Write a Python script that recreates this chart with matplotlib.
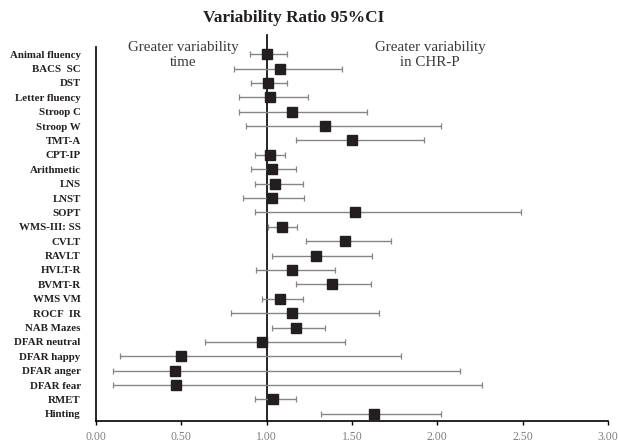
import matplotlib
matplotlib.use("Agg")
import matplotlib.pyplot as plt

categories = ["Animal fluency", "BACS  SC", "DST", "Letter fluency", "Stroop C", "Stroop W",
              "TMT-A", "CPT-IP", "Arithmetic", "LNS", "LNST", "SOPT", "WMS-III: SS", "CVLT",
              "RAVLT", "HVLT-R", "BVMT-R", "WMS VM", "ROCF  IR", "NAB Mazes", "DFAR neutral",
              "DFAR happy", "DFAR anger", "DFAR fear", "RMET", "Hinting"]
ratio = [1.00, 1.08, 1.01, 1.02, 1.15, 1.34, 1.50, 1.02, 1.03, 1.05, 1.03, 1.52, 1.09, 1.46,
         1.29, 1.15, 1.38, 1.08, 1.15, 1.17, 0.97, 0.50, 0.46, 0.47, 1.04, 1.63]
ci_low = [0.90, 0.81, 0.91, 0.84, 0.84, 0.88, 1.17, 0.93, 0.91, 0.93, 0.86, 0.93, 1.01, 1.23,
          1.03, 0.94, 1.17, 0.97, 0.79, 1.03, 0.64, 0.14, 0.10, 0.10, 0.93, 1.32]
ci_high = [1.12, 1.44, 1.12, 1.24, 1.59, 2.02, 1.92, 1.11, 1.17, 1.21, 1.22, 2.49, 1.18, 1.73,
           1.62, 1.40, 1.61, 1.21, 1.66, 1.34, 1.46, 1.79, 2.13, 2.26, 1.17, 2.02]
xticks = [0.0, 0.5, 1.0, 1.5, 2.0, 2.5, 3.0]

serif = ["Liberation Serif", "DejaVu Serif"]
fig = plt.figure(figsize=(6.18, 4.44), dpi=100)
ax = fig.add_axes([96/618, 1-421/444, 512/618, 374/444])

y = list(range(len(categories)))
n = len(categories)
xerr = [[r - l for r, l in zip(ratio, ci_low)], [h - r for r, h in zip(ratio, ci_high)]]
ax.errorbar(ratio, y, xerr=xerr, fmt="none", ecolor="#858585", elinewidth=1.0,
            capsize=2.5, capthick=0.9, zorder=2)
ax.plot(ratio, y, "s", color="#231f20", markersize=7.5, zorder=3, linestyle="none")
ax.plot([1.0, 1.0], [n - 0.5, -1.35], color="black", lw=1.2, zorder=1, clip_on=False)

ax.set_xlim(0, 3)
ax.set_ylim(n - 0.5, -0.5)
ax.set_yticks(y)
ax.set_yticklabels(categories, fontfamily=serif, fontweight="bold", fontsize=7.8,
                   color="#231f20")
ax.tick_params(axis="y", length=0, pad=11)
ax.set_xticks(xticks)
ax.set_xticklabels([f"{t:.2f}" for t in xticks], fontfamily=serif, fontsize=8.5, color="#808080")
ax.tick_params(axis="x", length=3, width=1, direction="out", pad=4)

for s in ["top", "right"]:
    ax.spines[s].set_visible(False)
for s in ["left", "bottom"]:
    ax.spines[s].set_linewidth(1.2)

fig.text(294/618, 1-18/444, "Variability Ratio 95%CI", ha="center", va="center",
         fontfamily=serif, fontweight="bold", fontsize=12.4, color="#231f20")
fig.text(183/618, 1-55/444, "Greater variability\ntime", ha="center", va="center",
         fontfamily=serif, fontsize=10.8, color="#3a3a3a", linespacing=1.2)
fig.text(430/618, 1-55/444, "Greater variability\nin CHR-P", ha="center", va="center",
         fontfamily=serif, fontsize=10.8, color="#3a3a3a", linespacing=1.2)

fig.savefig("out.png", dpi=100)
